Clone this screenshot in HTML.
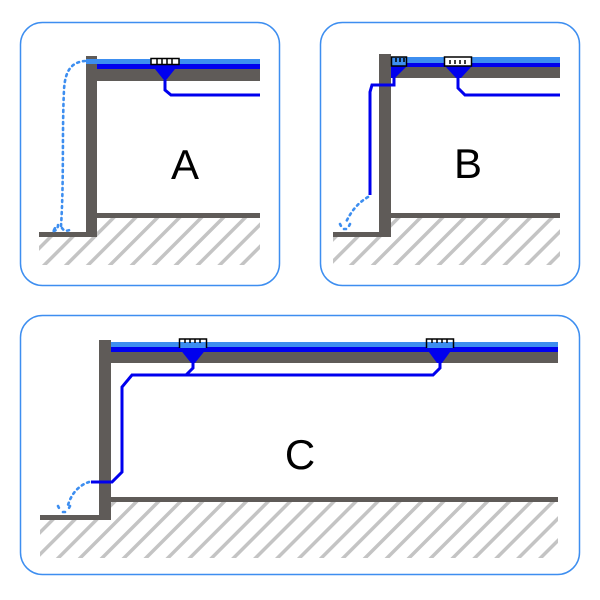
<!DOCTYPE html>
<html><head><meta charset="utf-8"><style>
html,body{margin:0;padding:0;background:#fff;}
svg{display:block;}
</style></head><body>
<svg width="600" height="600" viewBox="0 0 600 600" xmlns="http://www.w3.org/2000/svg">
<defs>
<pattern id="h" patternUnits="userSpaceOnUse" width="15.5" height="15.5" patternTransform="rotate(45)">
<rect x="0" y="0" width="3.5" height="15.5" fill="#c4c4c4"/>
</pattern>
</defs>
<g fill="none" stroke="#3d8ef0" stroke-width="1.5">
<rect x="20.5" y="22.5" width="259" height="263" rx="22"/>
<rect x="320.5" y="22.5" width="259" height="263" rx="22"/>
<rect x="20.5" y="315.5" width="559" height="259" rx="22"/>
</g>

<!-- Panel A -->
<rect x="39" y="237" width="52" height="28" fill="url(#h)"/>
<rect x="91" y="218" width="169" height="47" fill="url(#h)"/>
<rect x="86" y="56" width="11" height="181" fill="#5f5b58"/>
<rect x="39" y="232" width="52" height="5" fill="#5f5b58"/>
<rect x="97" y="213" width="163" height="5" fill="#5f5b58"/>
<rect x="97" y="69" width="163" height="12" fill="#5f5b58"/>
<rect x="86" y="59" width="174" height="5" fill="#3d8ef0"/>
<rect x="97" y="64" width="163" height="5" fill="#0000ee"/>
<polygon points="151,64 179,64 167,79 163,79" fill="#0000ee"/>
<rect x="151" y="58.5" width="28" height="6" fill="#fff" stroke="#000" stroke-width="1.5"/>
<path d="M157 59v5M162 59v5M167 59v5M172 59v5" stroke="#000" stroke-width="1.5"/>
<path d="M165 78V90L171 95H260" fill="none" stroke="#0000ee" stroke-width="3"/>
<path d="M85 61C72 62 65 70 64 90C62 130 64 180 61 226M58 225C58 230 54 232 50 231M62 228C64 232 70 231 72 228M54 230l2 -4" fill="none" stroke="#3d8ef0" stroke-width="2.6" stroke-dasharray="2 4" stroke-linecap="round"/>
<text x="185" y="179" font-family="Liberation Sans, sans-serif" font-size="42" text-anchor="middle">A</text>

<!-- Panel B -->
<rect x="333" y="237" width="50" height="28" fill="url(#h)"/>
<rect x="383" y="218" width="177" height="47" fill="url(#h)"/>
<rect x="379" y="54" width="12" height="183" fill="#5f5b58"/>
<rect x="333" y="232" width="50" height="5" fill="#5f5b58"/>
<rect x="391" y="213" width="169" height="5" fill="#5f5b58"/>
<rect x="391" y="67" width="169" height="11" fill="#5f5b58"/>
<rect x="391" y="57" width="169" height="6" fill="#3d8ef0"/>
<rect x="391" y="63" width="169" height="4" fill="#0000ee"/>
<polygon points="391,66 407,66 395,78 391,78" fill="#0000ee"/>
<rect x="391.5" y="57" width="15" height="9" fill="#3d8ef0" stroke="#000" stroke-width="1.5"/>
<path d="M396 58v4M400 58v4M404 58v4" stroke="#000" stroke-width="1.5"/>
<polygon points="445,66 472,66 461,78 456,78" fill="#0000ee"/>
<rect x="444.5" y="57" width="27" height="9" fill="#fff" stroke="#000" stroke-width="1.5"/>
<path d="M450 60v4M455 60v4M460 60v4M465 60v4" stroke="#000" stroke-width="1.5"/>
<path d="M458 77V88L465 95H560" fill="none" stroke="#0000ee" stroke-width="3"/>
<path d="M394 77V85H372L370 92V195" fill="none" stroke="#0000ee" stroke-width="3"/>
<path d="M368 197C358 203 352 210 346 222M340 224l2 4M350 224l-2 4M344 229h6" fill="none" stroke="#3d8ef0" stroke-width="2.6" stroke-dasharray="2 4" stroke-linecap="round"/>
<text x="468" y="178" font-family="Liberation Sans, sans-serif" font-size="42" text-anchor="middle">B</text>

<!-- Panel C -->
<rect x="40" y="520" width="64" height="38" fill="url(#h)"/>
<rect x="104" y="502" width="454" height="56" fill="url(#h)"/>
<rect x="99" y="340" width="12" height="180" fill="#5f5b58"/>
<rect x="40" y="515" width="64" height="5" fill="#5f5b58"/>
<rect x="111" y="497" width="447" height="5" fill="#5f5b58"/>
<rect x="111" y="352" width="447" height="11" fill="#5f5b58"/>
<rect x="111" y="342" width="447" height="6" fill="#3d8ef0"/>
<rect x="111" y="347" width="447" height="5" fill="#0000ee"/>
<polygon points="179,348 207,348 195,363 191,363" fill="#0000ee"/>
<rect x="179" y="342" width="28" height="6" fill="#3d8ef0"/>
<path d="M179.5 348V339H206.5V348" fill="none" stroke="#000" stroke-width="1.5"/>
<path d="M185 339v4M190 339v4M195 339v4M200 339v4" stroke="#000" stroke-width="1.5"/>
<polygon points="426,348 453,348 442,363 437,363" fill="#0000ee"/>
<rect x="426" y="342" width="27" height="6" fill="#3d8ef0"/>
<path d="M426.5 348V339H453.5V348" fill="none" stroke="#000" stroke-width="1.5"/>
<path d="M432 339v4M437 339v4M442 339v4M447 339v4" stroke="#000" stroke-width="1.5"/>
<path d="M193 362V368L186 375M440 362V368L433 375H132L122 387V472L112 482H91" fill="none" stroke="#0000ee" stroke-width="3"/>
<path d="M89 482C80 485 72 492 68 505M58 506l2 4M70 506l-2 4M63 512h6" fill="none" stroke="#3d8ef0" stroke-width="2.6" stroke-dasharray="2 4" stroke-linecap="round"/>
<text x="300" y="469" font-family="Liberation Sans, sans-serif" font-size="42" text-anchor="middle">C</text>
</svg>
</body></html>
